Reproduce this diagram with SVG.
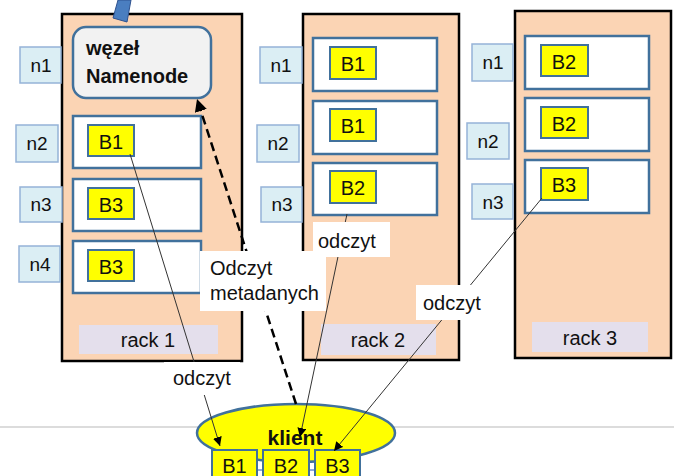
<svg xmlns="http://www.w3.org/2000/svg" width="674" height="476" viewBox="0 0 674 476">
<defs>
<style>
text{font-family:"Liberation Sans",Arial,sans-serif;fill:#111}
.rack{fill:#FBD4B4;stroke:#000;stroke-width:2.5}
.node{fill:#fff;stroke:#41719C;stroke-width:2.5}
.blk{fill:#FFFF00;stroke:#41719C;stroke-width:2}
.nl{fill:#DBEEF4;stroke:#95B3D7;stroke-width:1.5}
.rl{fill:#E4DFEC}
.bt{font-size:20px;text-anchor:middle}
.nt{font-size:19px;text-anchor:middle}
.rt{font-size:20px;text-anchor:middle}
.lab{fill:#fff}
.lt{font-size:20px}
.rd{stroke:#333;stroke-width:1;fill:none}
</style>
<marker id="ah" viewBox="0 0 10 10" refX="10" refY="5" markerWidth="9" markerHeight="9" markerUnits="userSpaceOnUse" orient="auto">
<path d="M0,0 L10,5 L0,10 z" fill="#000"/>
</marker>
<marker id="ahd" viewBox="0 0 10 10" refX="10" refY="5" markerWidth="5" markerHeight="5" orient="auto">
<path d="M0,0 L10,5 L0,10 z" fill="#000"/>
</marker>
</defs>
<rect width="674" height="476" fill="#fff"/>
<line x1="0" y1="427" x2="674" y2="427" stroke="#DCDCDC" stroke-width="2"/>

<g id="rack1">
<rect class="rack" x="62" y="14" width="180" height="347"/>
<rect class="rl" x="79" y="325" width="139" height="29"/>
<text class="rt" x="148" y="347">rack 1</text>
</g>
<g id="rack2">
<rect class="rack" x="303" y="14" width="156" height="346"/>
<rect class="rl" x="321" y="324" width="115" height="31"/>
<text class="rt" x="378" y="347">rack 2</text>
</g>
<g id="rack3">
<rect class="rack" x="515" y="11" width="156" height="347"/>
<rect class="rl" x="532" y="322" width="116" height="30"/>
<text class="rt" x="590" y="345">rack 3</text>
</g>

<g id="blue-bar">
<polygon points="118,0 131,0 127,22 113,18" fill="#4A7EC0" stroke="#2F528F" stroke-width="1"/>
</g>

<g id="namenode">
<rect x="73" y="27" width="138" height="71" rx="13" fill="#F2F2F2" stroke="#41719C" stroke-width="2.5"/>
<text x="86" y="55" font-size="20" font-weight="bold">węzeł</text>
<text x="86" y="83" font-size="20" font-weight="bold">Namenode</text>
</g>

<g id="r1n2"><rect class="node" x="73" y="116" width="128" height="52"/><rect class="blk" x="88" y="125" width="46" height="31"/><text class="bt" x="111" y="149">B1</text></g>
<g id="r1n3"><rect class="node" x="73" y="179" width="128" height="52"/><rect class="blk" x="88" y="188" width="46" height="31"/><text class="bt" x="111" y="212">B3</text></g>
<g id="r1n4"><rect class="node" x="73" y="241" width="128" height="52"/><rect class="blk" x="88" y="250" width="46" height="31"/><text class="bt" x="111" y="274">B3</text></g>

<g id="r2n1"><rect class="node" x="313" y="38" width="124" height="53"/><rect class="blk" x="330" y="47" width="46" height="32"/><text class="bt" x="353" y="71">B1</text></g>
<g id="r2n2"><rect class="node" x="313" y="101" width="124" height="53"/><rect class="blk" x="330" y="109" width="46" height="32"/><text class="bt" x="353" y="133">B1</text></g>
<g id="r2n3"><rect class="node" x="313" y="163" width="124" height="52"/><rect class="blk" x="330" y="171" width="46" height="32"/><text class="bt" x="353" y="195">B2</text></g>

<g id="r3n1"><rect class="node" x="525" y="36" width="124" height="53"/><rect class="blk" x="541" y="45" width="47" height="31"/><text class="bt" x="564" y="69">B2</text></g>
<g id="r3n2"><rect class="node" x="525" y="98" width="124" height="53"/><rect class="blk" x="541" y="107" width="47" height="31"/><text class="bt" x="564" y="131">B2</text></g>
<g id="r3n3"><rect class="node" x="525" y="160" width="124" height="53"/><rect class="blk" x="541" y="168" width="47" height="32"/><text class="bt" x="564" y="192">B3</text></g>

<g id="labels-rack1">
<rect class="nl" x="20" y="47" width="41" height="36"/><text class="nt" x="41" y="72">n1</text>
<rect class="nl" x="16" y="125" width="42" height="37"/><text class="nt" x="37" y="150">n2</text>
<rect class="nl" x="20" y="187" width="42" height="35"/><text class="nt" x="41" y="211">n3</text>
<rect class="nl" x="19" y="246" width="41" height="36"/><text class="nt" x="40" y="271">n4</text>
</g>
<g id="labels-rack2">
<rect class="nl" x="260" y="47" width="42" height="36"/><text class="nt" x="281" y="72">n1</text>
<rect class="nl" x="257" y="125" width="42" height="37"/><text class="nt" x="278" y="150">n2</text>
<rect class="nl" x="261" y="187" width="41" height="35"/><text class="nt" x="282" y="211">n3</text>
</g>
<g id="labels-rack3">
<rect class="nl" x="472" y="44" width="41" height="37"/><text class="nt" x="493" y="69">n1</text>
<rect class="nl" x="467" y="123" width="42" height="36"/><text class="nt" x="488" y="148">n2</text>
<rect class="nl" x="472" y="184" width="41" height="35"/><text class="nt" x="493" y="209">n3</text>
</g>

<g id="client">
<ellipse cx="296" cy="433" rx="99" ry="29" fill="#FFFF00" stroke="#41719C" stroke-width="2.5"/>
<text x="295" y="445" font-size="21" font-weight="bold" text-anchor="middle">klient</text>
<line x1="257" y1="470" x2="263" y2="470" stroke="#8EA9DB" stroke-width="2"/>
<line x1="309" y1="470" x2="315" y2="470" stroke="#8EA9DB" stroke-width="2"/>
<rect class="blk" x="212" y="450" width="45" height="32"/><text class="bt" x="234.5" y="473">B1</text>
<rect class="blk" x="263" y="450" width="46" height="32"/><text class="bt" x="286" y="473">B2</text>
<rect class="blk" x="315" y="450" width="45" height="32"/><text class="bt" x="337.5" y="473">B3</text>
</g>

<g id="connectors">
<line x1="296" y1="404" x2="197" y2="99" stroke="#000" stroke-width="2.5" stroke-dasharray="9,5" marker-end="url(#ahd)"/>
<line class="rd" x1="130" y1="154" x2="220" y2="446" marker-end="url(#ah)"/>
<line class="rd" x1="347" y1="214" x2="300" y2="437" marker-end="url(#ah)"/>
<line class="rd" x1="542" y1="198" x2="334" y2="451" marker-end="url(#ah)"/>
</g>

<g id="label-metadata">
<rect class="lab" x="200" y="251" width="126" height="60"/>
<text class="lt" x="210" y="275">Odczyt</text>
<text class="lt" x="210" y="300">metadanych</text>
</g>
<g id="label-read1">
<rect class="lab" x="164" y="362" width="76" height="33"/>
<text class="lt" x="173" y="385">odczyt</text>
</g>
<g id="label-read2">
<rect class="lab" x="313" y="222" width="77" height="35"/>
<text class="lt" x="318" y="248">odczyt</text>
</g>
<g id="label-read3">
<rect class="lab" x="416" y="285" width="71" height="35"/>
<text class="lt" x="423" y="310">odczyt</text>
</g>
</svg>
